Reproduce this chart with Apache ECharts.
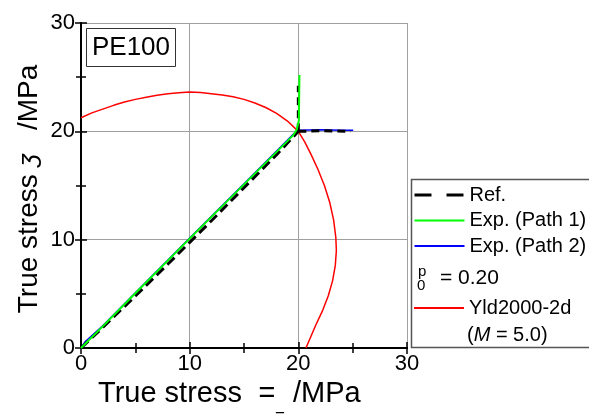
<!DOCTYPE html>
<html>
<head>
<meta charset="utf-8">
<script src="https://cdn.jsdelivr.net/npm/echarts@6/dist/echarts.min.js"></script>
<style>html,body{margin:0;padding:0;background:#fff}#c{width:589px;height:414px}</style>
</head>
<body>
<div id="c"></div>
<script>
// ---- data (MPa) ----
const xTickLabels = ['0', '10', '20', '30'];
const yTickLabels = ['0', '10', '20', '30'];
const refDiag = [[0,0],[2,1.9],[5,4.8],[8,7.75],[10,9.75],[12,11.75],[15,14.8],[18,17.85],[20,20]];
const refVert = [[20,20],[20,24.2]];
const refHorz = [[20,20],[22,20.05],[24.8,20]];
const exp1 = [[0,0],[2,2],[5,5.05],[10,10.1],[15,15.1],[19.5,19.6],[19.85,20.15],[20.05,21],[20.1,25.2]];
const exp2 = [[0,0],[0.4,0.6],[2,2.05],[5,5.1],[10,10.15],[15,15.15],[19.6,19.8],[20.1,20.1],[22,20.15],[24,20.1],[25.05,20.1]];
const yld = [[0,21.25],[1,21.7],[2,22.05],[3,22.4],[4,22.7],[5,22.95],[6,23.15],[7,23.33],[8,23.47],[9,23.57],[10,23.62],[11,23.58],[12,23.48],[13,23.36],[14,23.2],[15,22.95],[16,22.62],[17,22.2],[18,21.65],[19,20.95],[20,20.0],[20.6,19.0],[21.2,17.8],[21.8,16.5],[22.4,15.0],[22.9,13.4],[23.25,11.8],[23.45,10.2],[23.5,9.0],[23.4,7.6],[23.15,6.2],[22.75,4.8],[22.25,3.5],[21.6,2.1],[20.7,0]];
const strainLabel = '= 0.20';
const modelParam = 'M';
const modelValue = ' = 5.0)';

const FF = '"Liberation Sans", Arial, Helvetica, sans-serif';
const chart = echarts.init(document.getElementById('c'));

const axisCommon = {
  type: 'value', min: 0, max: 30, interval: 10,
  axisLine: { show: true, lineStyle: { color: '#000', width: 2 } },
  axisTick: { show: true, inside: true, length: 6, lineStyle: { color: '#000', width: 1.5 } },
  minorTick: { show: true, splitNumber: 2, length: 5, lineStyle: { color: '#000', width: 1.5 } },
  splitLine: { show: false }
};

const legendCommon = {
  orient: 'vertical', left: 413, itemWidth: 50, itemHeight: 14, itemGap: 3.5, padding: 0,
  selectedMode: false,
  itemStyle: { opacity: 0 },
  textStyle: { fontSize: 20, fontFamily: FF, color: '#000', lineHeight: 22 }
};

const option = {
  animation: false,
  backgroundColor: '#fff',
  grid: { left: 81, right: 182, top: 23, bottom: 66 },
  xAxis: [
    Object.assign({}, axisCommon, {
      position: 'bottom',
      splitLine: { show: true, lineStyle: { color: '#a0a0a0', width: 1 } },
      axisLabel: { fontSize: 22, fontFamily: FF, color: '#000', margin: 5,
        formatter: (v) => xTickLabels[Math.round(v / 10)] }
    }),
    Object.assign({}, axisCommon, { position: 'top', axisLabel: { show: false } })
  ],
  yAxis: [
    Object.assign({}, axisCommon, {
      position: 'left',
      splitLine: { show: true, lineStyle: { color: '#a0a0a0', width: 1 } },
      axisLabel: { fontSize: 22, fontFamily: FF, color: '#000', margin: 6,
        formatter: (v) => yTickLabels[Math.round(v / 10)] }
    }),
    Object.assign({}, axisCommon, { position: 'right', axisLabel: { show: false } })
  ],
  legend: [
    Object.assign({}, legendCommon, {
      top: 184,
      data: [
        { name: 'Ref.', lineStyle: { type: [17, 15], width: 3 } },
        { name: 'Exp. (Path 1)' },
        { name: 'Exp. (Path 2)' }
      ]
    }),
    Object.assign({}, legendCommon, {
      top: 297,
      data: [{ name: 'Yld2000-2d' }]
    })
  ],
  series: [
    { name: 'Yld2000-2d', type: 'line', data: yld, symbol: 'none', z: 2,
      lineStyle: { color: '#ff0000', width: 1.5 }, itemStyle: { color: '#ff0000' } },
    { name: 'Exp. (Path 2)', type: 'line', data: exp2, symbol: 'none', z: 3,
      lineStyle: { color: '#0000ff', width: 1.5 }, itemStyle: { color: '#0000ff' } },
    { name: 'Ref.', type: 'line', data: refDiag, symbol: 'none', z: 4,
      lineStyle: { color: '#000', width: 3, type: [10, 5] }, itemStyle: { color: '#000' } },
    { name: 'Ref.', type: 'line', data: refVert, symbol: 'none', z: 4,
      lineStyle: { color: '#000', width: 3, type: [8, 5] }, itemStyle: { color: '#000' } },
    { name: 'Ref.', type: 'line', data: refHorz, symbol: 'none', z: 4,
      lineStyle: { color: '#000', width: 3, type: [8, 5] }, itemStyle: { color: '#000' } },
    { name: 'Exp. (Path 1)', type: 'line', data: exp1, symbol: 'none', z: 5,
      lineStyle: { color: '#00ff00', width: 2 }, itemStyle: { color: '#00ff00' } }
  ],
  graphic: [
    { type: 'rect', z: 10, shape: { x: 86.5, y: 28.5, width: 89, height: 38 },
      style: { fill: '#fff', stroke: '#333', lineWidth: 1 } },
    { type: 'text', z: 11, x: 131, y: 48,
      style: { text: 'PE100', fontSize: 26, fontFamily: FF, fill: '#000', align: 'center', verticalAlign: 'middle' } },
    { type: 'rect', z: 0, shape: { x: 411.5, y: 179.5, width: 200, height: 168 },
      style: { fill: '#fff', stroke: '#555', lineWidth: 1.5 } },
    { type: 'text', z: 11, x: 417, y: 286,
      style: { text: '0', fontSize: 15, fontFamily: FF, fill: '#000', verticalAlign: 'middle' } },
    { type: 'text', z: 11, x: 418, y: 272,
      style: { text: 'p', fontSize: 15, fontFamily: FF, fill: '#000', verticalAlign: 'middle' } },
    { type: 'text', z: 11, x: 440, y: 278,
      style: { text: strainLabel, fontSize: 21, fontFamily: FF, fill: '#000', verticalAlign: 'middle' } },
    { type: 'text', z: 11, x: 467, y: 335,
      style: { text: '({i|' + modelParam + '}' + modelValue, fontSize: 20, fontFamily: FF, fill: '#000', verticalAlign: 'middle',
        rich: { i: { fontSize: 20, fontFamily: FF, fontStyle: 'italic', fill: '#000' } } } },
    { type: 'text', z: 11, x: 98, y: 379,
      style: { text: '{a|True stress  }{b|=}{c|=}{a| /MPa}', verticalAlign: 'top', fill: '#000',
        rich: {
          a: { fontSize: 29, fontFamily: FF, lineHeight: 31, verticalAlign: 'top', fill: '#000' },
          b: { fontSize: 29, fontFamily: FF, fontStyle: 'italic', lineHeight: 31, verticalAlign: 'top', fill: '#000' },
          c: { fontSize: 17, fontFamily: FF, lineHeight: 17, verticalAlign: 'top', padding: [28, 0, 0, 0], fill: '#000' }
        } } },
    { type: 'text', z: 11, x: 29, y: 189, rotation: Math.PI / 2,
      style: { text: '{a|True stress }{b|ʒ}{a|   /MPa}', align: 'center', verticalAlign: 'middle', fill: '#000',
        rich: {
          a: { fontSize: 28, fontFamily: FF, fill: '#000' },
          b: { fontSize: 26, fontFamily: FF, fontStyle: 'italic', fill: '#000' }
        } } }
  ]
};
chart.setOption(option);
</script>
</body>
</html>
